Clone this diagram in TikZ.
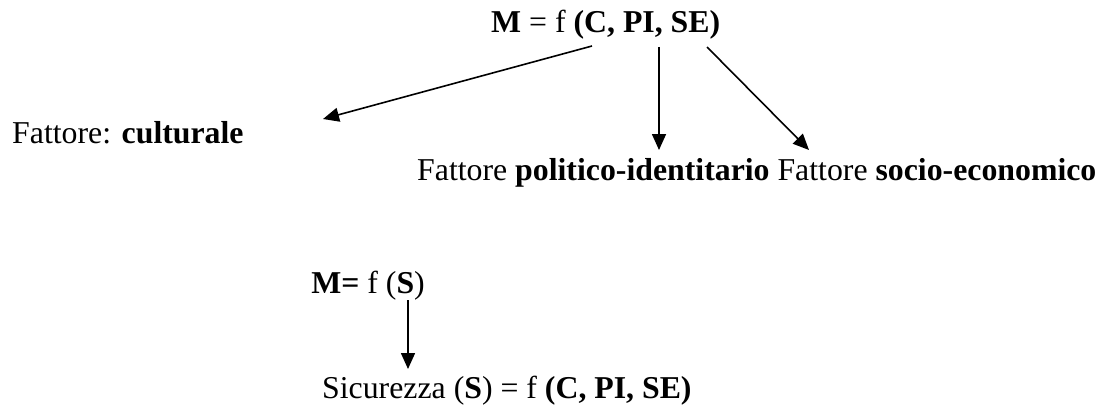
\documentclass[tikz,border=0pt]{standalone}
\usepackage{fontspec}
\setmainfont{Liberation Serif}
\usetikzlibrary{arrows.meta}
\begin{document}
\begin{tikzpicture}[x=1pt,y=-1pt,
  txt/.style={inner sep=0pt,font=\fontsize{31.8}{38}\selectfont},
  arr/.style={line width=1.6pt,-{Triangle[length=16pt,width=14pt]}}]
\useasboundingbox (0,0) rectangle (1102,409);
\node[txt,anchor=base west] (top) at (491,33) {\textbf{M} = f \textbf{(C, PI, SE)}};
\node[txt,anchor=base west] (cult) at (12,143) {Fattore: \textbf{culturale}};
\node[txt,anchor=base west] (pol) at (417,180) {Fattore \textbf{politico-identitario} Fattore \textbf{socio-economico}};
\node[txt,anchor=base east] (ms) at (425,293) {\textbf{M=} f (\textbf{S})};
\node[txt,anchor=base west] (sic) at (322,398) {Sicurezza (\textbf{S}) = f \textbf{(C, PI, SE)}};
\coordinate (a1s) at (592,46);
\coordinate (a1e) at (323,119);
\coordinate (a2s) at (659,47);
\coordinate (a2e) at (659,150);
\coordinate (a3s) at (707,47);
\coordinate (a3e) at (809,150);
\coordinate (a4s) at (408,300);
\coordinate (a4e) at (408,369);
\draw[arr] (a1s) -- (a1e);
\draw[arr] (a2s) -- (a2e);
\draw[arr] (a3s) -- (a3e);
\draw[arr] (a4s) -- (a4e);
\end{tikzpicture}
\end{document}
